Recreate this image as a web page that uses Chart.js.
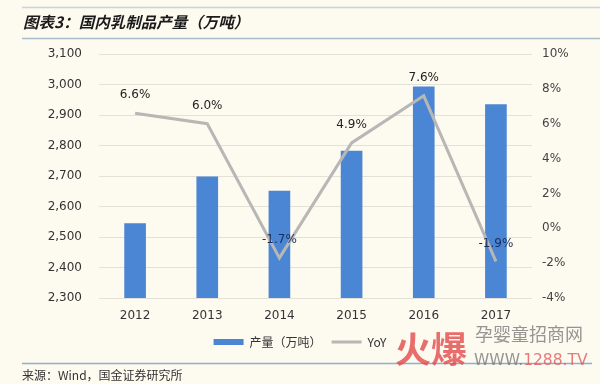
<!DOCTYPE html>
<html>
<head>
<meta charset="utf-8">
<script src="https://cdn.jsdelivr.net/npm/chart.js@4/dist/chart.umd.min.js"></script>
<style>
  html, body { margin: 0; padding: 0; background: #fdfaf0; }
  #wrap { width: 600px; height: 384px; position: relative; }
</style>
</head>
<body>
<div id="wrap"><canvas id="c" width="600" height="384"></canvas></div>
<script>
const years = ['2012', '2013', '2014', '2015', '2016', '2017'];
const output = [2545.2, 2698.0, 2651.8, 2782.5, 2993.2, 2935.0];
const yoy = [6.6, 6.0, -1.7, 4.9, 7.6, -1.9];
const seriesNames = ['产量（万吨）', 'YoY'];
const titleText = '图表3：国内乳制品产量（万吨）';
const sourceText = '来源：Wind，国金证券研究所';

const CJK = "'Noto Sans CJK SC', 'Noto Sans', sans-serif";

const decor = {
  id: 'decor',
  beforeDraw(chart) {
    const ctx = chart.ctx;
    ctx.save();
    ctx.fillStyle = '#fdfaf0';
    ctx.fillRect(0, 0, chart.width, chart.height);
    // rules
    ctx.strokeStyle = '#c7d3da';
    ctx.lineWidth = 1.5;
    ctx.beginPath(); ctx.moveTo(22, 7.5); ctx.lineTo(600, 7.5); ctx.stroke();
    ctx.strokeStyle = '#a8bccb';
    ctx.beginPath(); ctx.moveTo(22, 38.5); ctx.lineTo(600, 38.5); ctx.stroke();
    ctx.strokeStyle = '#8fb0c8';
    ctx.beginPath(); ctx.moveTo(22, 363.5); ctx.lineTo(592, 363.5); ctx.stroke();
    // title
    ctx.fillStyle = '#1a1a1a';
    ctx.font = "italic bold 15.5px " + CJK;
    ctx.textBaseline = 'middle';
    ctx.textAlign = 'left';
    ctx.fillText(titleText, 23, 22);
    // source
    ctx.fillStyle = '#333';
    ctx.font = "12px " + CJK;
    ctx.fillText(sourceText, 22, 375);
    ctx.restore();
  },
  afterDraw(chart) {
    const ctx = chart.ctx;
    ctx.save();
    ctx.textBaseline = 'middle';
    ctx.textAlign = 'left';
    ctx.globalAlpha = 0.8;
    ctx.fillStyle = '#e24a4a';
    ctx.font = "bold 36px " + CJK;
    ctx.fillText('火爆', 395, 349);
    ctx.fillStyle = '#7a7a7a';
    ctx.font = "18px " + CJK;
    ctx.fillText('孕婴童招商网', 475, 334);
    ctx.font = "15.5px 'DejaVu Sans', sans-serif";
    ctx.fillText('WWW.', 474, 361);
    const w = ctx.measureText('WWW.').width;
    ctx.fillStyle = '#e05a5a';
    ctx.fillText('1288.TV', 474 + w, 361);
    ctx.restore();
  }
};

const pctLabels = {
  id: 'pctLabels',
  afterDatasetsDraw(chart) {
    const ctx = chart.ctx;
    const meta = chart.getDatasetMeta(1);
    ctx.save();
    ctx.font = "12px 'DejaVu Sans', sans-serif";
    ctx.textAlign = 'center';
    ctx.textBaseline = 'middle';
    meta.data.forEach((pt, i) => {
      const v = yoy[i];
      ctx.fillStyle = v < 0 ? '#1b2d5e' : '#222';
      ctx.fillText(v.toFixed(1) + '%', pt.x, pt.y - 18);
    });
    ctx.restore();
  }
};

new Chart(document.getElementById('c'), {
  data: {
    labels: years,
    datasets: [
      {
        type: 'bar',
        label: seriesNames[0],
        data: output,
        backgroundColor: '#4a86d3',
        borderWidth: 0,
        barPercentage: 0.3,
        categoryPercentage: 1.0,
        yAxisID: 'y',
        order: 2,
        pointStyle: 'rect'
      },
      {
        type: 'line',
        label: seriesNames[1],
        data: yoy,
        borderColor: '#b7b7b5',
        backgroundColor: '#b7b7b5',
        borderWidth: 3,
        pointRadius: 0,
        tension: 0,
        yAxisID: 'y1',
        order: 1,
        pointStyle: 'line'
      }
    ]
  },
  options: {
    responsive: false,
    animation: false,
    devicePixelRatio: 1,
    layout: { padding: { top: 54, left: 0, right: 0, bottom: 26 } },
    plugins: {
      legend: {
        display: true,
        position: 'bottom',
        labels: {
          usePointStyle: true,
          pointStyleWidth: 30,
          boxHeight: 6,
          padding: 10,
          color: '#333',
          font: { size: 12, family: CJK },
          sort: (a, b) => a.datasetIndex - b.datasetIndex
        }
      },
      tooltip: { enabled: false }
    },
    scales: {
      x: {
        grid: { display: false },
        border: { display: false },
        ticks: { color: '#333', font: { size: 12, family: "'DejaVu Sans', sans-serif" }, padding: 3 },
        afterFit(s) { s.height = 28; }
      },
      y: {
        position: 'left',
        min: 2300, max: 3100,
        grid: { color: '#e4e1d6', lineWidth: 1, drawTicks: false },
        border: { display: false },
        ticks: {
          stepSize: 100,
          padding: 17,
          color: '#333',
          font: { size: 12, family: "'DejaVu Sans', sans-serif" },
          callback: v => v.toLocaleString('en-US')
        },
        afterFit(s) { s.width = 99; }
      },
      y1: {
        position: 'right',
        min: -4, max: 10,
        grid: { display: false, drawTicks: false },
        border: { display: false },
        ticks: {
          stepSize: 2,
          padding: 10,
          color: '#444',
          font: { size: 12, family: "'DejaVu Sans', sans-serif" },
          callback: v => v + '%'
        },
        afterFit(s) { s.width = 68; }
      }
    }
  },
  plugins: [decor, pctLabels]
});
</script>
</body>
</html>
